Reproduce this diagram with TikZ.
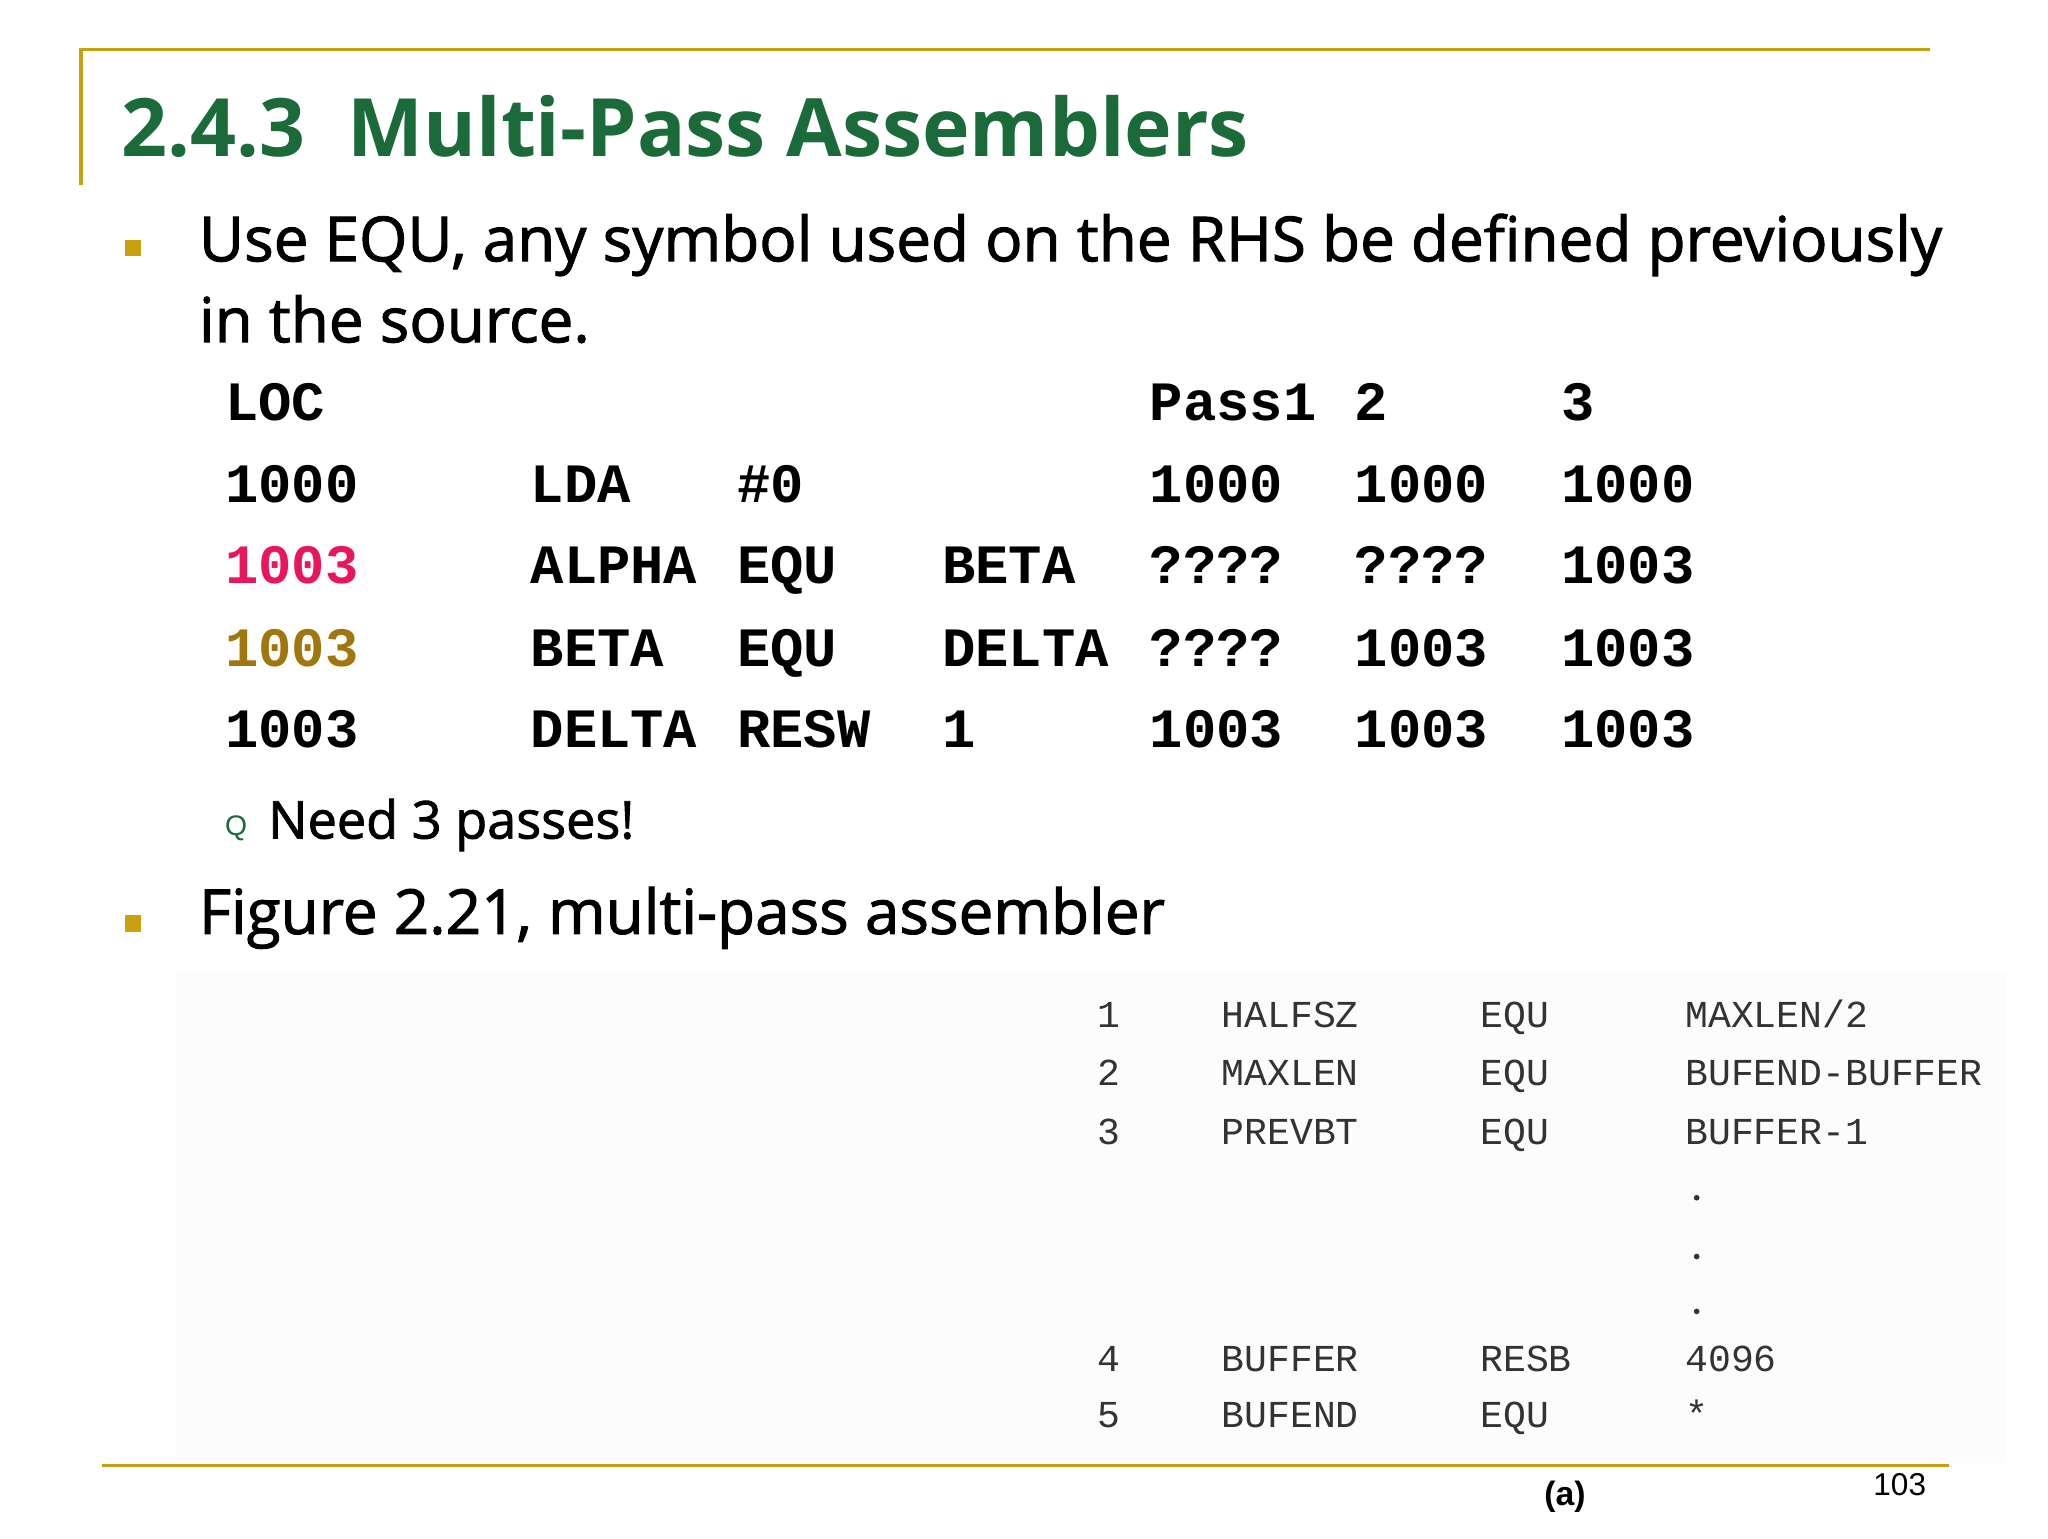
\documentclass[tikz,border=0pt]{standalone}
\usepackage{fontspec}
\setmainfont{Open Sans}
\newfontfamily\bodyf[BoldFont={Open Sans},BoldFeatures={FakeBold=1.6}]{Open Sans}
\newfontfamily\cour{Liberation Mono}
\newfontfamily\armono{Liberation Sans}
\definecolor{gold}{HTML}{C9A010}
\definecolor{ttl}{HTML}{1B6B3A}
\definecolor{pinkc}{HTML}{E8175D}
\definecolor{brownc}{HTML}{A0760F}
\begin{document}
\begin{tikzpicture}[x=0.6pt,y=-0.6pt,
  t/.style={anchor=base west,inner sep=0pt},
  tt/.style={t,font=\cour\bfseries\fontsize{25.5}{28}\selectfont},
  fig/.style={t,font=\cour\fontsize{17.5}{20}\selectfont,text=black!80},
  body/.style={t,font=\bodyf\bfseries\fontsize{28.5}{32}\selectfont},
  bul/.style={fill=gold,minimum size=7.5pt,inner sep=0pt}]
\useasboundingbox (0,0) rectangle (1568,1178);
\fill[black!1] (135,745) rectangle (1535,1120);
\draw[gold,line width=1.6pt] (62,142) -- (62,38) -- (1478,38);
\draw[gold,line width=1.6pt] (78,1122) -- (1492,1122);
\node[t,text=ttl,font=\bfseries\fontsize{37}{40}\selectfont] (title) at (93,120) {2.4.3\ \ Multi-Pass Assemblers};
\node[bul] (b1) at (102,190) {};
\node[body] (l1) at (152,200) {Use EQU, any symbol used on the RHS be defined previously};
\node[body] (l2) at (152,262) {in the source.};
% table
\node[tt] (h1) at (172,322) {LOC};
\node[tt] (h2) at (880,322) {Pass1};
\node[tt] (h3) at (1037,322) {2};
\node[tt] (h4) at (1195,322) {3};
\foreach \y/\a/\b/\c/\d/\e/\f/\g/\col in {
  385/1000/LDA/\#0//1000/1000/1000/black,
  447/1003/ALPHA/EQU/BETA/????/????/1003/pinkc,
  510/1003/BETA/EQU/DELTA/????/1003/1003/brownc,
  572/1003/DELTA/RESW/1/1003/1003/1003/black}{
  \node[tt,text=\col] at (172,\y) {\a};
  \node[tt] at (406,\y) {\b};
  \node[tt] at (564,\y) {\c};
  \node[tt] at (721,\y) {\d};
  \node[tt] at (880,\y) {\e};
  \node[tt] at (1037,\y) {\f};
  \node[tt] at (1195,\y) {\g};
}
\node[t,text=ttl,font=\armono\fontsize{13}{15}\selectfont] (q) at (172,640) {Q};
\node[body,font=\bodyf\bfseries\fontsize{24}{28}\selectfont] (need) at (205,642) {Need 3 passes!};
\node[bul] (b2) at (102,707) {};
\node[body] (fig) at (152,715) {Figure 2.21, multi-pass assembler};
% figure
\foreach \y/\n/\a/\b/\c in {787/1/HALFSZ/EQU/{MAXLEN/2},831/2/MAXLEN/EQU/BUFEND-BUFFER,876/3/PREVBT/EQU/BUFFER-1,1050/4/BUFFER/RESB/4096,1093/5/BUFEND/EQU/*}{
  \node[fig] at (840,\y) {\n};
  \node[fig] at (935,\y) {\a};
  \node[fig] at (1133,\y) {\b};
  \node[fig] at (1290,\y) {\c};
}
\foreach \y in {917,962,1004} \fill[black!80] (1299,\y) circle (1.3pt);
\node[t,font=\armono\bfseries\fontsize{15.5}{18}\selectfont] (a) at (1182,1153) {(a)};
\node[t,font=\armono\fontsize{14.5}{17}\selectfont] (pg) at (1434,1145) {103};
\end{tikzpicture}
\end{document}
